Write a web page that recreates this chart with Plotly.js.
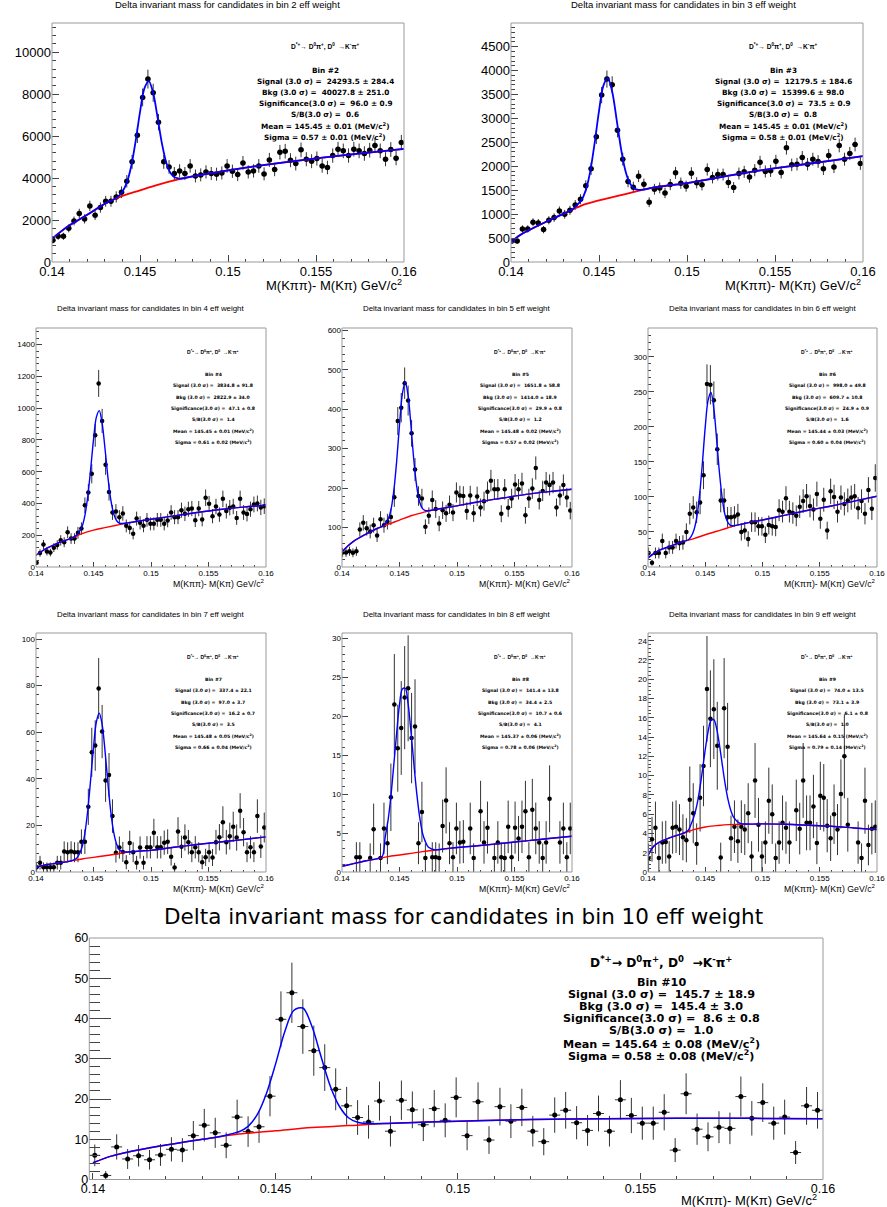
<!DOCTYPE html>
<html>
<head>
<meta charset="utf-8">
<script src="https://cdn.plot.ly/plotly-3.0.1.min.js"></script>
<style>
html,body{margin:0;padding:0;background:#fff;}
#chart{width:887px;height:1207px;}
</style>
</head>
<body>
<div id="chart"></div>
<script>
// ---------------- DATA ----------------
// histogram binning (bin centres): first centre and bin width, GeV
const firstBinCentre = 0.14005;
const binWidth = 0.0003;
const xTickVals = [0.14, 0.145, 0.15, 0.155, 0.16];
const xTickText = ["0.14", "0.145", "0.15", "0.155", "0.16"];

const binNames = ["2", "3", "4", "5", "6", "7", "8", "9", "10"];
const signalText = ["24293.5 ± 284.4", "12179.5 ± 184.6", "3834.8 ± 91.8", "1651.8 ± 58.8", "998.0 ± 49.8", "337.4 ± 22.1", "141.4 ± 13.8", "74.0 ± 13.5", "145.7 ± 18.9"];
const bkgText = ["40027.8 ± 251.0", "15399.6 ± 98.0", "2822.9 ± 34.0", "1414.0 ± 18.9", "609.7 ± 10.8", "97.0 ± 3.7", "34.4 ± 2.5", "73.1 ± 3.9", "145.4 ± 3.0"];
const signifText = ["96.0 ± 0.9", "73.5 ± 0.9", "47.1 ± 0.8", "29.9 ± 0.8", "24.9 ± 0.9", "16.2 ± 0.7", "10.7 ± 0.6", "6.1 ± 0.8", "8.6 ± 0.8"];
const sbText = ["0.6", "0.8", "1.4", "1.2", "1.6", "3.5", "4.1", "1.0", "1.0"];
const meanText = ["145.45 ± 0.01", "145.45 ± 0.01", "145.45 ± 0.01", "145.48 ± 0.02", "145.44 ± 0.03", "145.48 ± 0.05", "145.37 ± 0.06", "145.64 ± 0.15", "145.64 ± 0.08"];
const sigmaText = ["0.57 ± 0.01", "0.58 ± 0.01", "0.61 ± 0.02", "0.57 ± 0.02", "0.60 ± 0.04", "0.66 ± 0.04", "0.78 ± 0.06", "0.79 ± 0.14", "0.58 ± 0.08"];

// per-bin event weights used for error bars (error = w * sqrt(content))
const errWeight = [4.8, 2.9, 2.5, 1.85, 1.74, 1.47, 1.4, 1.26, 1.1];

const counts2 = [1035,1226,1226,1608,1958,2308,2054,2674,2229,2595,2897,2897,3104,3327,3852,4776,6050,7850,8724,8071,6670,4776,4537,4219,4346,4219,4585,4107,4155,4298,4219,4187,4250,4585,4330,4171,4728,4298,4346,4585,4203,4871,4410,5238,5285,4855,4696,5349,4903,4808,4935,4585,4505,5078,5381,5301,5078,5381,5301,5174,5333,5556,5301,4903,5365,4951,5699];
const counts3 = [440,440,690,690,830,816,677,872,928,1067,998,1081,1193,1312,1591,1947,2616,3488,3823,3705,2756,2149,1681,1563,1793,1626,1249,1521,1549,1444,1619,1863,1647,1584,1856,1654,1612,1933,1765,1828,1828,1661,1556,1849,1884,1779,1919,2086,1891,1905,2107,1870,2386,2030,2044,2184,2044,2149,2100,1947,2226,1988,2435,2149,2267,2456,2058];
const counts4 = [27,88,141,97,91,122,139,168,156,219,179,179,215,242,389,469,587,829,1156,920,644,472,343,349,314,337,259,246,210,305,278,259,297,272,272,297,297,272,293,343,314,314,358,335,364,368,295,368,299,436,398,320,381,330,429,352,373,381,309,429,343,333,364,394,400,375,383];
const counts5 = [37,37,40,36,40,95,112,98,90,106,80,121,106,115,127,177,370,404,466,422,339,247,180,174,102,130,170,147,110,144,136,158,138,189,181,180,142,181,136,179,151,167,191,219,197,197,135,197,150,174,209,197,212,131,174,199,251,170,193,214,208,214,151,181,208,176,143];
const counts6 = [20,6,20,20,37,20,28,28,37,34,35,50,76,85,78,92,131,261,260,238,168,95,95,71,71,72,75,50,52,40,64,64,58,58,46,60,58,57,81,79,98,79,77,73,86,94,101,87,82,104,69,96,52,108,100,79,99,90,95,99,101,84,94,76,110,83,127];
const counts7 = [2,4,2,2,2,2,4,4,8.8,8.5,8.8,8.5,8.5,13,13,28,51.4,54.3,78.8,60.3,39.3,41.6,24,8.3,10.5,8.6,4.2,12.5,8.5,4,10.5,4,10.6,10.6,16.8,10.6,10.6,12.6,13,6.5,1.9,17.4,10.8,14.8,12.8,8.5,10.6,8.5,4.2,6.3,8.5,6.2,12.8,14.9,21.4,12.8,15.4,19.4,14.8,26.3,17.1,8.5,10.6,8.5,24,10.9,19.1];
const counts8 = [null,null,null,null,1.9,1.9,null,null,1.8,5.5,null,1.8,5.6,3.7,9.6,21.5,15.9,18.5,22.4,23.6,17.2,18.7,3.7,7.7,1.8,null,1.9,1.9,1.8,5.9,9.2,3.7,1.9,5.6,3.8,3.9,null,5.6,1.8,null,7.8,3.8,5.7,null,1.8,3.8,1.9,1.8,5.8,1.9,5.7,4.3,5.8,7.8,1.9,8.0,5.6,3.8,1.8,3.8,9.4,null,null,3.8,5.6,1.9,5.6];
const counts9 = [1.45,3.4,4.6,1.45,3.05,3.1,1.6,4.6,4.7,4.4,3.6,3.3,7.5,6.1,2.9,7.7,11.0,19.0,15.9,16.9,13.1,1.5,17.0,13.0,3.5,4.7,3.2,4.7,4.4,6.1,1.6,9.5,4.9,1.6,3.05,7.4,6.0,1.45,3.05,5.1,4.6,3.05,null,6.4,4.5,9.5,5.1,5.1,6.8,3.0,7.9,7.7,4.8,3.5,6.0,4.4,8.1,12.0,4.9,null,null,3.05,1.45,7.4,2.8,4.5,4.7];
const counts10 = [6.0,1.0,8.1,5.1,5.9,4.9,6.1,7.5,7.3,10.9,13.5,11.6,8.5,15.5,11.9,13.1,20.7,39.8,46.4,38.0,32.0,27.8,22.4,18.3,15.4,14.3,19.5,12.0,19.7,17.3,13.6,17.6,14.7,20.4,10.9,19.3,9.8,18.1,14.5,17.9,12.0,9.4,16.0,17.2,14.1,12.2,16.4,12.0,19.8,15.9,14.0,14.0,16.7,7.3,21.3,12.5,10.6,13.0,12.7,20.6,15.2,19.1,14.0,15.5,6.7,18.3,17.2];

// background-only fit (red), sampled
const bkgX = [0.140,0.1405,0.141,0.142,0.143,0.144,0.145,0.146,0.147,0.148,0.150,0.152,0.154,0.156,0.158,0.160];
const bkg2 = [1100,1450,1750,2250,2780,3150,3420,3680,3900,4080,4370,4620,4840,5040,5220,5400];
const bkg3 = [420,560,660,840,1010,1180,1290,1375,1465,1550,1650,1780,1905,2010,2107,2212];
const bkg4 = [74,99,120,154,179,210,232,248,263,278,301,322,343,362,377,389];
const bkg5 = [38,53,65,82,97,108,119,130,138,145,155,166,175,184,191,197];
const bkg6 = [13,19,24,30,36,40.5,46,51,56,60.5,67,74,81,87,94,101];
const bkg7 = [2.2,2.7,3.2,3.9,4.7,5.6,6.3,7.0,7.7,8.6,9.3,10.6,11.8,12.9,13.9,15.1];
const bkg8 = [0.73,0.9,1.07,1.42,1.68,1.98,2.19,2.4,2.62,2.79,3.14,3.4,3.7,4.0,4.3,4.6];
const bkg9 = [1.73,2.67,3.1,3.6,3.98,4.4,4.67,4.81,4.92,4.95,4.99,4.95,4.85,4.74,4.57,4.4];
const bkg10 = [4.15,5.8,6.9,8.55,10.0,11.3,12.1,12.9,13.4,13.9,14.5,14.9,15.1,15.2,15.2,15.1];

// total fit (blue), sampled
const fitX = [0.140,0.1405,0.141,0.142,0.143,0.1435,0.14375,0.144,0.14425,0.1445,0.14475,0.145,0.14525,0.1455,0.14575,0.146,0.14625,0.1465,0.14675,0.147,0.14725,0.1475,0.148,0.149,0.150,0.152,0.154,0.156,0.158,0.160];
const fit2 = [1100,1450,1750,2250,2780,2980,3118,3354,3786,4570,5757,7153,8279,8630,8057,6883,5637,4723,4222,4028,3980,3998,4080,4230,4370,4620,4840,5040,5220,5400];
const fit3 = [420,560,660,840,1010,1104,1190,1291,1502,1890,2479,3155,3685,3842,3559,2983,2370,1909,1646,1536,1506,1512,1550,1600,1650,1780,1905,2010,2107,2212];
const fit4 = [74,99,120,154,179,199,222,254,324,444,614,801,944,985,906,746,568,426,336,293,277,274,278,290,301,322,343,362,377,389];
const fit5 = [38,53,65,82,97,103,109,120,144,192,267,360,439,469,435,357,270,204,165,148,143,143,145,150,155,166,175,184,191,197];
const fit6 = [13,19,24,30,36,38.5,43,52,70,102,148,200,238,249,226,181,133,96,73,63,59,59,60.5,64,67,74,81,87,94,101];
const fit7 = [2.2,2.7,3.2,3.9,4.7,5.8,7.5,10.6,16.6,26.4,39.5,53.5,64.4,68.2,63.4,52.1,38.3,26.0,17.2,12.1,9.6,8.7,8.6,9.0,9.3,10.6,11.8,12.9,13.9,15.1];
const fit8 = [0.73,0.9,1.07,1.42,1.68,2.0,4.4,6.6,9.7,13.7,17.8,21.5,23.5,23.6,21.6,18.0,13.9,10.1,7.1,5.0,3.9,3.2,2.85,3.0,3.14,3.4,3.7,4.0,4.3,4.6];
const fit9 = [1.73,2.67,3.1,3.6,3.98,4.3,4.93,5.69,6.84,8.48,10.51,12.7,14.57,15.71,15.81,14.86,13.11,11.03,9.05,7.45,6.32,5.64,5.07,4.97,4.99,4.95,4.85,4.74,4.57,4.4];
const fit10 = [4.15,5.8,6.9,8.55,10.0,10.7,11.25,11.85,13.2,16.1,21.3,28.6,36.6,42.0,42.6,38.0,30.5,23.25,18.2,15.35,14.2,13.9,13.9,14.2,14.5,14.9,15.1,15.2,15.2,15.1];

const allCounts = [counts2,counts3,counts4,counts5,counts6,counts7,counts8,counts9,counts10];
const allBkg = [bkg2,bkg3,bkg4,bkg5,bkg6,bkg7,bkg8,bkg9,bkg10];
const allFit = [fit2,fit3,fit4,fit5,fit6,fit7,fit8,fit9,fit10];

// ---------------- LAYOUT CONFIG (pixels) ----------------
const W = 887, H = 1207;
const FONT = "Liberation Sans, Arial, Helvetica, sans-serif";
const WIDE = "DejaVu Sans, Liberation Sans, sans-serif";
const STY = {
  L: {tick:13, xtl:7, xml:3.5, ytl:7, yml:3.5, mk:5.5, title:9.5, titleF:FONT, info:7.3, decay:6.6, decayF:FONT, axt:13, lw:1.8},
  S: {tick:8, xtl:5, xml:2.5, ytl:6, yml:3, mk:4.5, title:7.9, titleF:FONT, info:4.6, decay:5.0, decayF:FONT, axt:8.7, lw:1.4},
  W: {tick:12.5, xtl:7, xml:3.5, ytl:22, yml:11, mk:5, title:21.5, titleF:WIDE, info:11.2, decay:12.2, decayF:WIDE, axt:13, lw:1.5}
};
// box: [left, top, right, bottom] ; title centre ; info centre/top ; axis-title right end
const panels = [
  {box:[52,23,404,262], xr:[0.14,0.16], ymax:11400, dt:2000, mdt:400, s:'L', tc:[228,5], ic:325, dy:47, iy:70, st:11.2, ay:285, ax:404},
  {box:[511,23,863,262], xr:[0.14,0.16], ymax:4995, dt:500, mdt:100, s:'L', tc:[683,5], ic:783, dy:47, iy:70, st:11.2, ay:285, ax:863},
  {box:[36,328,266,567], xr:[0.14,0.16], ymax:1505, dt:200, mdt:40, s:'S', tc:[151,309], ic:213, dy:352, iy:374.5, st:11.3, ay:583, ax:266},
  {box:[342,328,572,567], xr:[0.14,0.16], ymax:606, dt:100, mdt:20, s:'S', tc:[457,309], ic:520, dy:352, iy:374.5, st:11.3, ay:583, ax:572},
  {box:[648,328,877,567], xr:[0.14,0.16], ymax:341, dt:50, mdt:10, s:'S', tc:[763,309], ic:827, dy:352, iy:374.5, st:11.3, ay:583, ax:877},
  {box:[36,633,266,872], xr:[0.14,0.16], ymax:102.6, dt:20, mdt:4, s:'S', tc:[151,614], ic:213, dy:657, iy:679.5, st:11.3, ay:888, ax:266},
  {box:[342,633,572,872], xr:[0.14,0.16], ymax:30.7, dt:5, mdt:1, s:'S', tc:[457,614], ic:520, dy:657, iy:679.5, st:11.3, ay:888, ax:572},
  {box:[648,633,877,872], xr:[0.14,0.16], ymax:24.8, dt:2, mdt:0.4, s:'S', tc:[763,614], ic:827, dy:657, iy:679.5, st:11.3, ay:888, ax:877},
  {box:[89.3,938,823,1179.5], xr:[0.1399,0.16], ymax:60, dt:10, mdt:2, s:'W', tc:[463,916], ic:661, dy:962, iy:982.5, st:12.1, ay:1200, ax:819}
];

const fx = v => v / W;
const fy = v => 1 - v / H;

const decayLabel = "D<sup>*+</sup>→ D<sup>0</sup>π<sup>+</sup>, D<sup>0</sup>  →K<sup>-</sup>π<sup>+</sup>";
const axisLabel = "M(Kππ)- M(Kπ) GeV/c<sup>2</sup>";

const traces = [];
const layout = {
  width: W, height: H,
  margin: {l:0, r:0, t:0, b:0},
  paper_bgcolor: '#fff', plot_bgcolor: '#fff',
  showlegend: false,
  annotations: [], shapes: []
};

panels.forEach((p, i) => {
  const n = i + 1;
  const sfx = n === 1 ? '' : String(n);
  const st = STY[p.s];
  const counts = allCounts[i];
  const xs = counts.map((_, j) => firstBinCentre + j * binWidth);
  const errs = counts.map(v => v == null ? 0 : errWeight[i] * Math.sqrt(v));

  traces.push({
    type: 'scatter', mode: 'markers', x: xs, y: counts,
    xaxis: 'x' + sfx, yaxis: 'y' + sfx,
    marker: {color: '#000', size: st.mk},
    error_y: {type: 'data', array: errs, visible: true, color: '#333', thickness: 1, width: 0},
    error_x: {type: 'constant', value: binWidth / 2, visible: true, color: '#333', thickness: 1, width: 0},
    hoverinfo: 'skip'
  });
  traces.push({
    type: 'scatter', mode: 'lines', x: bkgX, y: allBkg[i],
    xaxis: 'x' + sfx, yaxis: 'y' + sfx,
    line: {color: '#ff0000', width: st.lw, shape: 'spline', smoothing: 1},
    hoverinfo: 'skip'
  });
  traces.push({
    type: 'scatter', mode: 'lines', x: fitX, y: allFit[i],
    xaxis: 'x' + sfx, yaxis: 'y' + sfx,
    line: {color: '#0000ff', width: st.lw, shape: 'spline', smoothing: 0.9},
    hoverinfo: 'skip'
  });

  const [l, t, r, b] = p.box;
  layout['xaxis' + sfx] = {
    domain: [fx(l), fx(r)], anchor: 'y' + sfx, range: p.xr,
    tickmode: 'array', tickvals: xTickVals, ticktext: xTickText,
    ticks: 'inside', ticklen: st.xtl, tickwidth: 1, tickcolor: '#444',
    minor: {tickmode: 'linear', tick0: 0.14, dtick: 0.001, ticks: 'inside', ticklen: st.xml, tickwidth: 1, tickcolor: '#444'},
    showgrid: false, zeroline: false, showline: false,
    tickfont: {family: FONT, size: st.tick, color: '#000'},
    automargin: false, fixedrange: true
  };
  layout['yaxis' + sfx] = {
    domain: [fy(b), fy(t)], anchor: 'x' + sfx, range: [0, p.ymax],
    tickmode: 'linear', tick0: 0, dtick: p.dt, tickformat: 'd',
    ticks: 'inside', ticklen: st.ytl, tickwidth: 1, tickcolor: '#444',
    minor: {tickmode: 'linear', tick0: 0, dtick: p.mdt, ticks: 'inside', ticklen: st.yml, tickwidth: 1, tickcolor: '#444'},
    showgrid: false, zeroline: false, showline: false,
    tickfont: {family: FONT, size: st.tick, color: '#000'},
    automargin: false, fixedrange: true
  };
  layout.shapes.push({
    type: 'rect', xref: 'paper', yref: 'paper',
    x0: fx(l), x1: fx(r), y0: fy(b), y1: fy(t),
    line: {color: '#999', width: 1}, fillcolor: 'rgba(0,0,0,0)', layer: 'above'
  });

  const ann = (text, x, y, size, family, xanchor, bold) => layout.annotations.push({
    xref: 'paper', yref: 'paper', x: fx(x), y: fy(y), text: bold ? '<b>' + text + '</b>' : text,
    showarrow: false, xanchor: xanchor || 'center', yanchor: 'middle',
    font: {family: family, size: size, color: '#000'}
  });

  ann('Delta invariant mass for candidates in bin ' + binNames[i] + ' eff weight', p.tc[0], p.tc[1], st.title, st.titleF);
  ann(axisLabel, p.ax, p.ay, st.axt, FONT, 'right');
  ann(decayLabel, p.ic, p.dy, st.decay, st.decayF, 'center', true);
  const lines = [
    'Bin #' + binNames[i],
    'Signal (3.0 σ) =  ' + signalText[i],
    'Bkg (3.0 σ) =  ' + bkgText[i],
    'Significance(3.0 σ) =  ' + signifText[i],
    'S/B(3.0 σ) =  ' + sbText[i],
    'Mean = ' + meanText[i] + ' (MeV/c<sup>2</sup>)',
    'Sigma = ' + sigmaText[i] + ' (MeV/c<sup>2</sup>)'
  ];
  lines.forEach((tx, k) => ann(tx, p.ic, p.iy + k * p.st, st.info, WIDE, 'center', true));
});

Plotly.newPlot('chart', traces, layout, {staticPlot: true, displayModeBar: false});
</script>
</body>
</html>
